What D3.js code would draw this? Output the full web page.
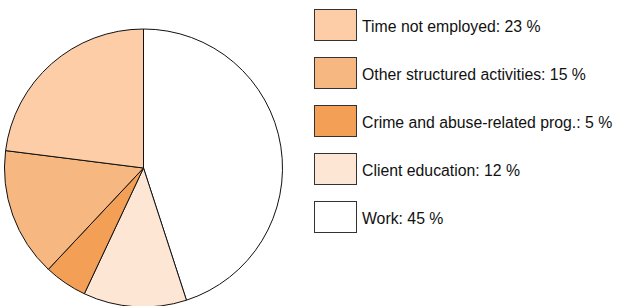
<!DOCTYPE html>
<html>
<head>
<meta charset="utf-8">
<script src="https://cdn.jsdelivr.net/npm/d3@7"></script>
<style>
  html, body { margin: 0; padding: 0; background: #fff; }
  svg { display: block; }
</style>
</head>
<body>
<svg id="chart" width="618" height="306"></svg>
<script>
// slices in drawing order, clockwise from 12 o'clock
var labels = ["Work", "Client education", "Crime and abuse-related prog.", "Other structured activities", "Time not employed"];
var values = [45, 12, 5, 15, 23];
var colors = ["#ffffff", "#fee6d5", "#f39f55", "#f6b880", "#fdcda8"];

var svg = d3.select("#chart");

// --- Pie ---
var cx = 143.5, cy = 168, r = 139;
var pie = d3.pie().sort(null).value(function (d) { return d; });
var arc = d3.arc().innerRadius(0).outerRadius(r);
var arcs = pie(values);

svg.append("g")
  .attr("transform", "translate(" + cx + "," + cy + ")")
  .selectAll("path")
  .data(arcs)
  .join("path")
  .attr("d", arc)
  .attr("fill", function (d, i) { return colors[i]; })
  .attr("stroke", "#111")
  .attr("stroke-width", 1)
  .attr("stroke-linejoin", "round");

// --- Legend (reverse order) ---
var order = d3.range(labels.length).reverse();
var ly = d3.scaleBand().domain(order).range([9, 249]).paddingInner(0);

var leg = svg.append("g")
  .selectAll("g")
  .data(order)
  .join("g")
  .attr("transform", function (i) { return "translate(314," + ly(i) + ")"; });

leg.append("rect")
  .attr("x", 0.5).attr("y", 0.5)
  .attr("width", 42).attr("height", 31)
  .attr("fill", function (i) { return colors[i]; })
  .attr("stroke", "#333")
  .attr("stroke-width", 1);

leg.append("text")
  .attr("x", 48)
  .attr("y", 23)
  .attr("font-family", "Liberation Sans, Arial, Helvetica, sans-serif")
  .attr("font-size", "15.8px")
  .attr("fill", "#111")
  .text(function (i) { return labels[i] + ": " + values[i] + " %"; });
</script>
</body>
</html>
